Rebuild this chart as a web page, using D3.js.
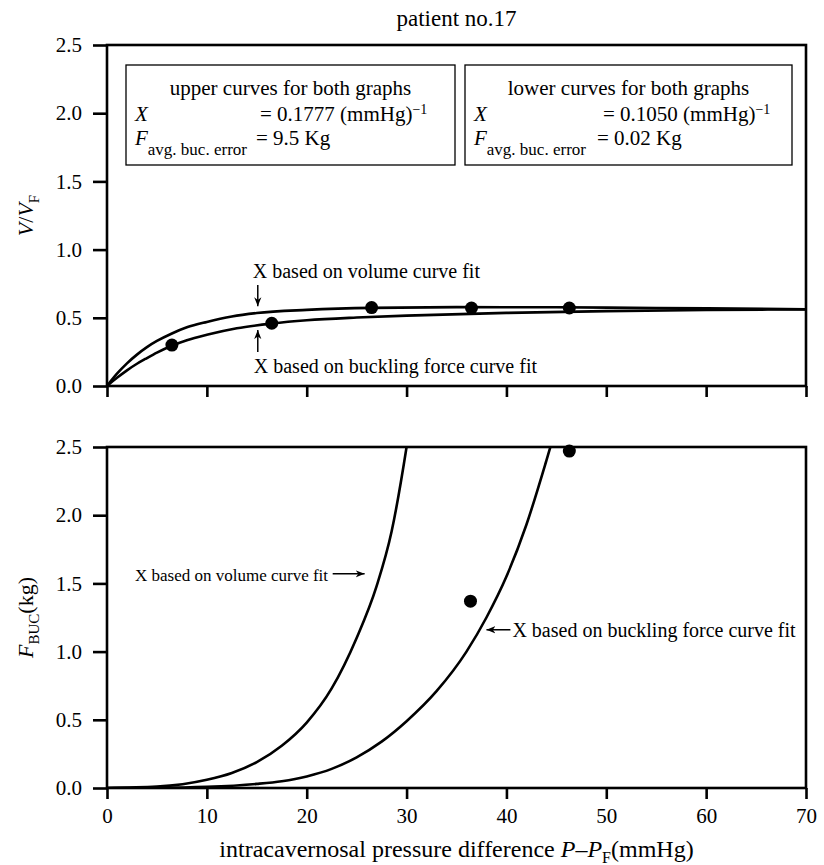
<!DOCTYPE html>
<html><head><meta charset="utf-8">
<script src="https://cdn.jsdelivr.net/npm/d3@7"></script>
<style>
body{margin:0;background:#fff}
svg{display:block}
text{font-family:"Liberation Serif","Times New Roman",serif;fill:#000}
</style>
</head><body>
<svg id="c" width="824" height="865"></svg>
<script>
// ---- data ----
const xTickValues = [0, 10, 20, 30, 40, 50, 60, 70];
const yTickValues = [0, 0.5, 1.0, 1.5, 2.0, 2.5];

// top panel: V/VF curves
const volUpperP = [0, 1, 2, 3, 4, 5, 6.5, 8, 10, 12.5, 15, 20, 26.5, 35, 45, 55, 70];
const volUpperV = [0, 0.09, 0.166, 0.23, 0.285, 0.33, 0.385, 0.43, 0.47, 0.51, 0.535, 0.558, 0.573, 0.578, 0.577, 0.572, 0.563];
const volLowerP = [0, 1, 2, 3, 4, 5, 6.5, 8, 10, 13, 16.5, 20, 25, 30, 40, 50, 60, 70];
const volLowerV = [0, 0.06, 0.115, 0.163, 0.205, 0.245, 0.295, 0.335, 0.375, 0.423, 0.458, 0.482, 0.502, 0.516, 0.536, 0.549, 0.557, 0.562];
const volDotsP = [6.5, 16.5, 26.5, 36.5, 46.3];
const volDotsV = [0.30, 0.46, 0.575, 0.572, 0.572];

// bottom panel: F_BUC curves
const bucUpperP = [0, 5, 10, 12.5, 15, 17.5, 20, 22.5, 25, 27, 28.5, 30, 31];
const bucUpperF = [0, 0.01, 0.06, 0.11, 0.19, 0.31, 0.48, 0.73, 1.1, 1.48, 1.88, 2.5, 3.0];
const bucLowerP = [0, 5, 10, 15, 17.5, 20, 22.5, 25, 27.5, 30, 33, 36, 38, 40, 42, 44, 45];
const bucLowerF = [0, 0.001, 0.008, 0.03, 0.05, 0.085, 0.14, 0.225, 0.34, 0.49, 0.71, 1.0, 1.25, 1.55, 1.93, 2.4, 2.65];
const bucDotsP = [36.4, 46.3];
const bucDotsF = [1.37, 2.47];

// ---- layout ----
const svg = d3.select("#c");
const L = 107, R = 806;
const top1 = 45, bot1 = 386, top2 = 447, bot2 = 788;
const x = d3.scaleLinear().domain([0, 70]).range([L, R]);
const y1 = d3.scaleLinear().domain([0, 2.5]).range([bot1, top1]);
const y2 = d3.scaleLinear().domain([0, 2.5]).range([bot2, top2]);
const LW = 2.6;

const defs = svg.append("defs");
defs.append("clipPath").attr("id", "clip2").append("rect")
  .attr("x", L).attr("y", top2).attr("width", R - L).attr("height", bot2 - top2);
defs.append("marker").attr("id", "ah").attr("viewBox", "0 0 10 10")
  .attr("refX", 10).attr("refY", 5).attr("markerWidth", 9).attr("markerHeight", 9)
  .attr("markerUnits", "userSpaceOnUse").attr("orient", "auto")
  .append("path").attr("d", "M0,1 L10,5 L0,9 L3,5 Z").attr("fill", "#000");

function styleAxis(g) {
  g.select(".domain").remove();
  g.selectAll(".tick line").attr("stroke", "#000").attr("stroke-width", LW);
  g.selectAll(".tick text").style("font-size", "21px").style("font-family", '"Liberation Serif",serif');
}

function panel(yScale, yTop, yBot, showXLabels) {
  const gy = svg.append("g").attr("transform", `translate(${L},0)`)
    .call(d3.axisLeft(yScale).tickValues(yTickValues).tickFormat(d3.format(".1f"))
      .tickSizeInner(14).tickSizeOuter(0).tickPadding(11));
  styleAxis(gy);
  const gx = svg.append("g").attr("transform", `translate(0,${yBot})`)
    .call(d3.axisBottom(x).tickValues(xTickValues)
      .tickFormat(showXLabels ? d3.format("d") : () => "")
      .tickSizeInner(11).tickSizeOuter(0).tickPadding(9));
  styleAxis(gx);
  svg.append("rect").attr("x", L).attr("y", yTop).attr("width", R - L).attr("height", yBot - yTop)
    .attr("fill", "none").attr("stroke", "#000").attr("stroke-width", LW);
}

panel(y1, top1, bot1, false);
panel(y2, top2, bot2, true);

function drawCurve(P, V, yScale, clip) {
  const pts = P.map((p, i) => [p, V[i]]);
  const line = d3.line().x(d => x(d[0])).y(d => yScale(d[1])).curve(d3.curveMonotoneX);
  const path = svg.append("path").attr("d", line(pts)).attr("fill", "none")
    .attr("stroke", "#000").attr("stroke-width", LW).attr("stroke-linejoin", "round");
  if (clip) path.attr("clip-path", "url(#clip2)");
}
function drawDots(P, V, yScale) {
  svg.append("g").selectAll("circle").data(P.map((p, i) => [p, V[i]])).join("circle")
    .attr("cx", d => x(d[0])).attr("cy", d => yScale(d[1])).attr("r", 6.5).attr("fill", "#000");
}

drawCurve(volUpperP, volUpperV, y1, false);
drawCurve(volLowerP, volLowerV, y1, false);
drawDots(volDotsP, volDotsV, y1);
drawCurve(bucUpperP, bucUpperF, y2, true);
drawCurve(bucLowerP, bucLowerF, y2, true);
drawDots(bucDotsP, bucDotsF, y2);

// ---- title ----
svg.append("text").attr("x", (L + R) / 2).attr("y", 26).attr("text-anchor", "middle")
  .style("font-size", "23px").text("patient no.17");

// ---- y titles ----
const yt1 = svg.append("text").attr("transform", `translate(33,${(top1 + bot1) / 2}) rotate(-90)`)
  .attr("text-anchor", "middle").style("font-size", "22px");
yt1.append("tspan").style("font-style", "italic").text("V");
yt1.append("tspan").text("/");
yt1.append("tspan").style("font-style", "italic").text("V");
yt1.append("tspan").attr("dy", 6).style("font-size", "15px").text("F");

const yt2 = svg.append("text").attr("transform", `translate(33,${(top2 + bot2) / 2}) rotate(-90)`)
  .attr("text-anchor", "middle").style("font-size", "22px");
yt2.append("tspan").style("font-style", "italic").text("F");
yt2.append("tspan").attr("dy", 6).style("font-size", "15px").text("BUC");
yt2.append("tspan").attr("dy", -6).text("(kg)");

// ---- x title ----
const xt = svg.append("text").attr("x", (L + R) / 2).attr("y", 857).attr("text-anchor", "middle")
  .style("font-size", "24px");
xt.append("tspan").text("intracavernosal pressure difference ");
xt.append("tspan").style("font-style", "italic").text("P");
xt.append("tspan").text("–");
xt.append("tspan").style("font-style", "italic").text("P");
xt.append("tspan").attr("dy", 6).style("font-size", "16px").text("F");
xt.append("tspan").attr("dy", -6).text("(mmHg)");

// ---- parameter boxes ----
function box(x0, x1, eqX, eqF, heading, xval, fval) {
  svg.append("rect").attr("x", x0).attr("y", 65).attr("width", x1 - x0).attr("height", 100)
    .attr("fill", "#fff").attr("stroke", "#000").attr("stroke-width", 1.3);
  svg.append("text").attr("x", (x0 + x1) / 2).attr("y", 95).attr("text-anchor", "middle")
    .style("font-size", "21px").text(heading);
  svg.append("text").attr("x", x0 + 9).attr("y", 121).style("font-size", "21px")
    .style("font-style", "italic").text("X");
  const t2 = svg.append("text").attr("x", eqX).attr("y", 121).style("font-size", "21px");
  t2.append("tspan").text("= " + xval + " (mmHg)");
  t2.append("tspan").attr("dy", -7).style("font-size", "14px").text("−1");
  const t3 = svg.append("text").attr("x", x0 + 9).attr("y", 145).style("font-size", "21px");
  t3.append("tspan").style("font-style", "italic").text("F");
  t3.append("tspan").attr("dy", 10).style("font-size", "17px").text("avg. buc. error");
  t3.append("tspan").attr("dy", -10).attr("x", eqF).text("= " + fval + " Kg");
}
box(126, 455, 260, 256, "upper curves for both graphs", "0.1777", "9.5");
box(465, 792, 603, 597, "lower curves for both graphs", "0.1050", "0.02");

// ---- annotations ----
function arrow(x0, y0, x1, y1) {
  svg.append("line").attr("x1", x0).attr("y1", y0).attr("x2", x1).attr("y2", y1)
    .attr("stroke", "#000").attr("stroke-width", 1.5).attr("marker-end", "url(#ah)");
}
svg.append("text").attr("x", x(14.6)).attr("y", y1(0.79)).style("font-size", "20px")
  .text("X based on volume curve fit");
arrow(x(15.1), y1(0.74), x(15.1), y1(0.585));
svg.append("text").attr("x", x(14.7)).attr("y", y1(0.095)).style("font-size", "20px")
  .text("X based on buckling force curve fit");
arrow(x(15.1), y1(0.25), x(15.1), y1(0.41));

svg.append("text").attr("x", x(2.8)).attr("y", y2(1.52)).style("font-size", "17px")
  .text("X based on volume curve fit");
arrow(x(22.6), y2(1.57), x(25.8), y2(1.57));
svg.append("text").attr("x", x(40.6)).attr("y", y2(1.11)).style("font-size", "20px")
  .text("X based on buckling force curve fit");
arrow(x(40.4), y2(1.16), x(38.0), y2(1.16));
</script>
</body></html>
